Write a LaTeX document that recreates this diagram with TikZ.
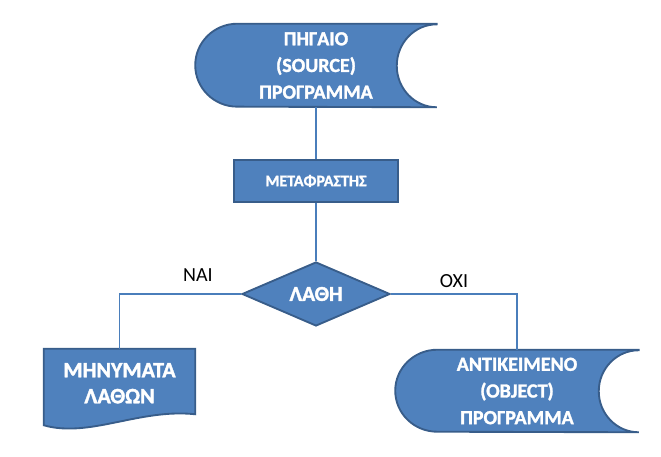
\documentclass[tikz,border=0pt]{standalone}
\usepackage{fontspec}
\setmainfont{Carlito}
\newfontfamily\boxfont{Carlito}[UprightFont={* Bold},FakeBold=1.5]
\usetikzlibrary{calc}
\usetikzlibrary{shapes.geometric}
\usetikzlibrary{backgrounds}
\usepackage{xcolor}
\definecolor{boxblue}{HTML}{4F81BD}
\definecolor{edgeblue}{HTML}{385D8A}
\definecolor{lineblue}{HTML}{4A7EBB}
\tikzset{
  shapeline/.style={draw=edgeblue,fill=boxblue,line width=1.4pt},
  datatext/.style={text=white,font=\fontsize{15}{20}\selectfont\boxfont,align=center,inner sep=0pt},
  procbox/.style={shapeline,text=white,font=\fontsize{12}{14}\selectfont\boxfont,inner sep=0pt,minimum width=123pt,minimum height=31.5pt},
  decide/.style={diamond,shapeline,text=white,font=\fontsize{16}{18}\selectfont\boxfont,inner sep=0pt,aspect=2.31,minimum width=111pt,minimum height=48pt},
  link/.style={draw=lineblue,line width=1.3pt},
  answer/.style={font=\fontsize{15}{17}\selectfont,inner sep=1pt}
}
% stored data outline round a node: #1 node, #2 half height
\newcommand{\storedpath}[2]{%
  \draw[shapeline] (#1.north east) -- ($(#1.north west)+(42,0)$)
    arc[start angle=90,end angle=270,x radius=31.5pt,y radius=#2]
    -- (#1.south east)
    arc[start angle=270,end angle=90,x radius=30pt,y radius=#2] -- cycle;}
\begin{document}
\begin{tikzpicture}[x=0.75pt,y=0.75pt]
\useasboundingbox (0,0) rectangle (661,457);
\node[datatext,minimum width=180.75pt,minimum height=62.25pt] (src) at (316,391.5) {ΠΗΓΑΙΟ\\(SOURCE)\\ΠΡΟΓΡΑΜΜΑ};
\node[procbox] (comp) at (316,276) {ΜΕΤΑΦΡΑΣΤΗΣ};
\node[decide] (err) at (316,163) {ΛΑΘΗ};
\node[datatext,font=\fontsize{16.5}{19.5}\selectfont\boxfont,minimum width=113.25pt,minimum height=59.25pt,text depth=8pt] (msg) at (119.5,68.5) {ΜΗΝΥΜΑΤΑ\\ΛΑΘΩΝ};
\node[datatext,minimum width=182.25pt,minimum height=61.5pt] (obj) at (517,66) {ΑΝΤΙΚΕΙΜΕΝΟ\\(OBJECT)\\ΠΡΟΓΡΑΜΜΑ};
\begin{scope}[on background layer]
\storedpath{src}{31.1pt}
\storedpath{obj}{30.75pt}
\draw[shapeline] (msg.north west) -- (msg.north east) -- ($(msg.south east)+(0,14)$)
  .. controls ($(msg.south)+(20,20)$) and ($(msg.south)+(-30,-10)$) .. ($(msg.south west)+(0,3)$) -- cycle;
\end{scope}
\draw[link] (src.south) -- (comp.north);
\draw[link] (comp.south) -- (err.north);
\draw[link] (err.west) -| (msg.north);
\draw[link] (err.east) -| (obj.north);
\node[answer] (yes) at (198,182) {ΝΑΙ};
\node[answer] (no) at (454,176) {ΟΧΙ};
\end{tikzpicture}
\end{document}
